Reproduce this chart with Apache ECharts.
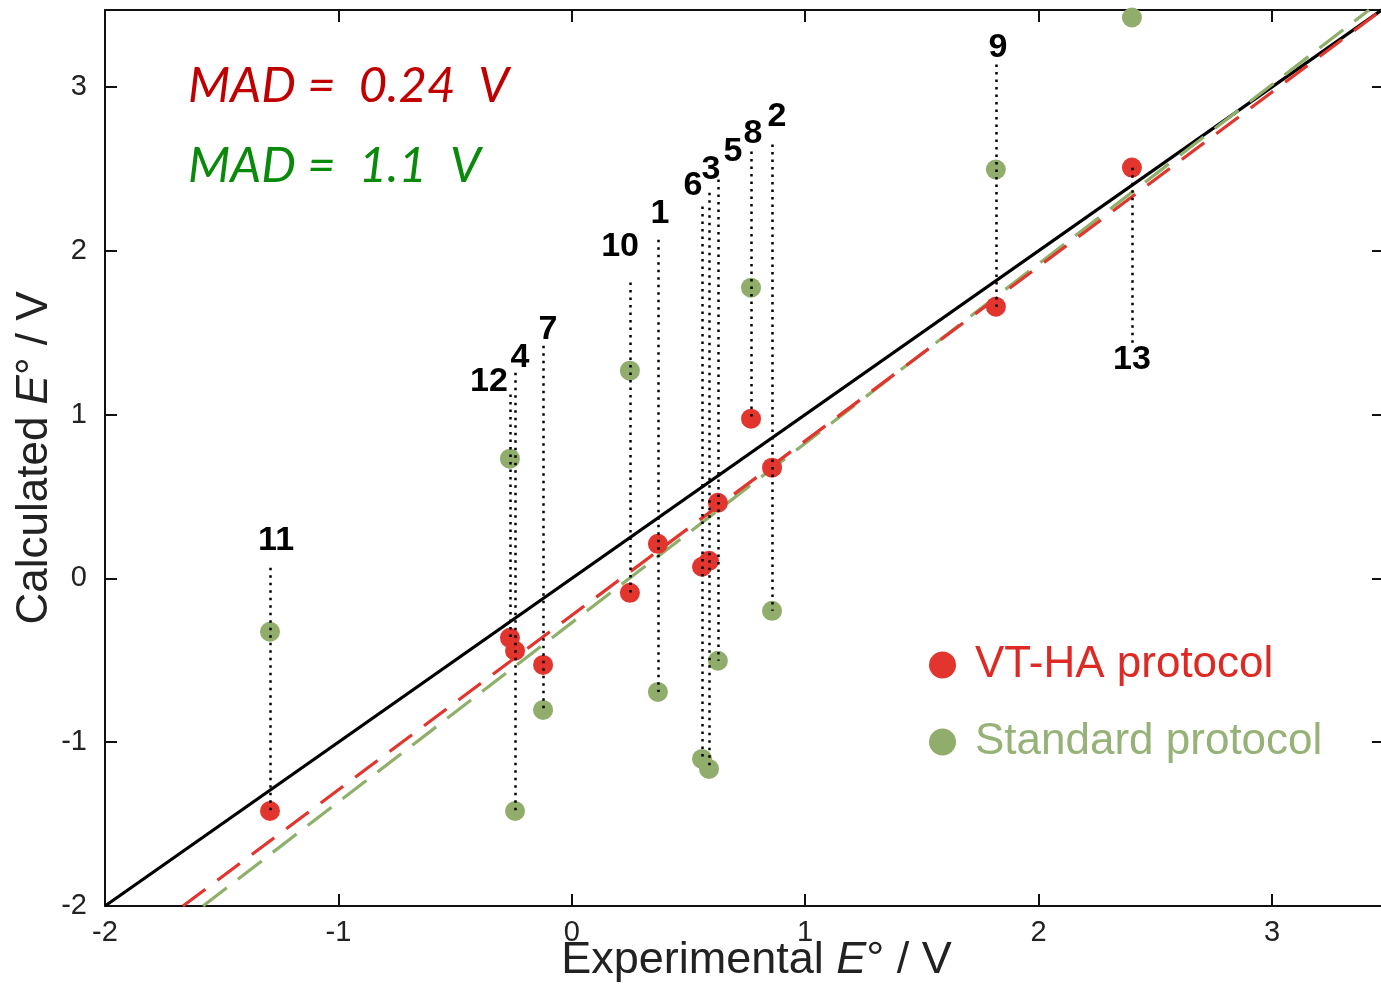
<!DOCTYPE html>
<html>
<head>
<meta charset="utf-8">
<script src="https://cdn.jsdelivr.net/npm/echarts@6/dist/echarts.min.js"></script>
<style>
html,body{margin:0;padding:0;background:#fff;}
#chart{width:1381px;height:986px;}
</style>
</head>
<body>
<div id="chart"></div>
<script>
// ---- data ----
var compounds   = ['1','2','3','4','5','6','7','8','9','10','11','12','13'];
var expE        = [0.369, 0.858, 0.588, -0.243, 0.626, 0.558, -0.123, 0.768, 1.817, 0.249, -1.293, -0.265, 2.400];
var calcVTHA    = [0.211, 0.676, 0.107, -0.442, 0.462, 0.071, -0.528, 0.975, 1.659, -0.088, -1.420, -0.363, 2.508];
var calcStd     = [-0.693, -0.198, -1.163, -1.420, -0.503, -1.102, -0.803, 1.775, 2.496, 1.268, -0.326, 0.731, 3.424];
// end of each dotted guide next to its compound number (data units)
var guideEnd    = [2.068, 2.649, 2.355, 1.256, 2.435, 2.270, 1.421, 2.606, 3.137, 1.806, 0.065, 1.122, 1.439];
// compound number anchors (data units)
var tagX        = [0.378, 0.879, 0.596, -0.222, 0.691, 0.519, -0.102, 0.776, 1.826, 0.207, -1.267, -0.355, 2.400];
var tagY        = [2.227, 2.820, 2.496, 1.348, 2.606, 2.398, 1.519, 2.716, 3.241, 2.026, 0.230, 1.201, 1.335];
// straight lines (endpoints)
var identityX   = [-2, 3.48];
var identityY   = [-2, 3.48];
var fitVTHAX    = [-1.666, 3.48];
var fitVTHAY    = [-2, 3.48];
var fitStdX     = [-1.58, 3.416];
var fitStdY     = [-2, 3.47];
var axisTicks   = [-2, -1, 0, 1, 2, 3];
var madVTHA     = 'MAD =  0.24  V';
var madStd      = 'MAD =  1.1  V';

var FONT = "'Liberation Sans', Arial, sans-serif";
var RED = '#e2352e', GREEN = '#91ad6b';

function pairs(xs, ys){ return xs.map(function(x,i){ return [x, ys[i]]; }); }

var guides = compounds.map(function(c,i){
  return { coords: [[expE[i], guideEnd[i]], [expE[i], Math.min(calcVTHA[i], calcStd[i])]] };
});
var tags = compounds.map(function(c,i){ return { name: c, value: [tagX[i], tagY[i]] }; });

var chart = echarts.init(document.getElementById('chart'), null, {renderer:'canvas'});
var tickFmt = function(v){ return axisTicks.indexOf(Math.round(v*1000)/1000) >= 0 ? String(v) : ''; };
var baseAxis = {
  type:'value', min:-2, interval:1,
  axisLine:{show:true, onZero:false, lineStyle:{color:'#111', width:2}},
  axisTick:{show:true, inside:true, length:12, lineStyle:{color:'#111', width:2}},
  splitLine:{show:false}
};
var option = {
  backgroundColor:'#fff',
  animation:false,
  grid:{left:105, right:-3, top:10, bottom:80, containLabel:false, outerBoundsMode:'none'},
  xAxis:[
    Object.assign({}, baseAxis, {max:3.48, position:'bottom',
      axisLabel:{show:true, margin:12, fontSize:29, fontFamily:FONT, color:'#222', formatter:tickFmt, showMaxLabel:false},
      name:'Experimental {i|E}° / V', nameLocation:'middle', nameGap:32, nameMoveOverlap:false,
      nameTextStyle:{fontSize:45, fontFamily:FONT, color:'#222', padding:[0,0,0,24],
        rich:{i:{fontSize:45, fontFamily:FONT, fontStyle:'italic', color:'#222'}}}
    }),
    Object.assign({}, baseAxis, {max:3.48, position:'top', axisLabel:{show:false}})
  ],
  yAxis:[
    Object.assign({}, baseAxis, {max:3.47, position:'left',
      axisLabel:{show:true, margin:18, fontSize:29, fontFamily:FONT, color:'#222', formatter:tickFmt, showMaxLabel:false},
      name:'Calculated {i|E}° / V', nameLocation:'middle', nameGap:48, nameMoveOverlap:false,
      nameTextStyle:{fontSize:44, fontFamily:FONT, color:'#222',
        rich:{i:{fontSize:44, fontFamily:FONT, fontStyle:'italic', color:'#222'}}}
    }),
    Object.assign({}, baseAxis, {max:3.47, position:'right', axisLabel:{show:false}})
  ],
  legend:{
    orient:'vertical', left:924, top:638, itemWidth:27, itemHeight:27, itemGap:33,
    icon:'circle',
    data:[
      {name:'VT-HA protocol', textStyle:{color:'#dd2a24'}},
      {name:'Standard protocol', textStyle:{color:'#96b277'}}
    ],
    textStyle:{fontSize:44, fontFamily:FONT, lineHeight:44, padding:[0,0,0,14]}
  },
  graphic:[
    {type:'text', left:188, top:62, style:{text:madVTHA, fill:'#c00000', font:"italic 49px Lato, 'Open Sans', sans-serif"}},
    {type:'text', left:188, top:142, style:{text:madStd, fill:'#0a8a0a', font:"italic 49px Lato, 'Open Sans', sans-serif"}}
  ],
  series:[
    {type:'line', name:'identity', data:pairs(identityX, identityY), symbol:'none', silent:true,
      lineStyle:{color:'#000', width:3.2, type:'solid'}, z:2},
    {type:'line', name:'fitStd', data:pairs(fitStdX, fitStdY), symbol:'none', silent:true,
      lineStyle:{color:'#8fb06a', width:3.2, type:[30,14]}, z:2},
    {type:'line', name:'fitVTHA', data:pairs(fitVTHAX, fitVTHAY), symbol:'none', silent:true,
      lineStyle:{color:'#e2352e', width:3.2, type:[28,15]}, z:3},
    {type:'scatter', name:'Standard protocol', data:pairs(expE, calcStd), symbol:'circle', symbolSize:20,
      itemStyle:{color:GREEN, opacity:1}, z:4},
    {type:'scatter', name:'VT-HA protocol', data:pairs(expE, calcVTHA), symbol:'circle', symbolSize:20,
      itemStyle:{color:RED, opacity:1}, z:5},
    {type:'lines', coordinateSystem:'cartesian2d', polyline:false, data:guides, silent:true,
      lineStyle:{color:'#000', width:2.5, type:[2.5,5], opacity:1}, z:6},
    {type:'scatter', name:'tags', data:tags, symbolSize:1, itemStyle:{color:'rgba(255,255,255,0)'}, silent:true,
      label:{show:true, position:'inside', formatter:'{b}', fontSize:34, fontWeight:'bold', fontFamily:FONT,
        color:'#000', textBorderWidth:0, opacity:1}, z:7}
  ]
};
chart.setOption(option);
</script>
</body>
</html>
